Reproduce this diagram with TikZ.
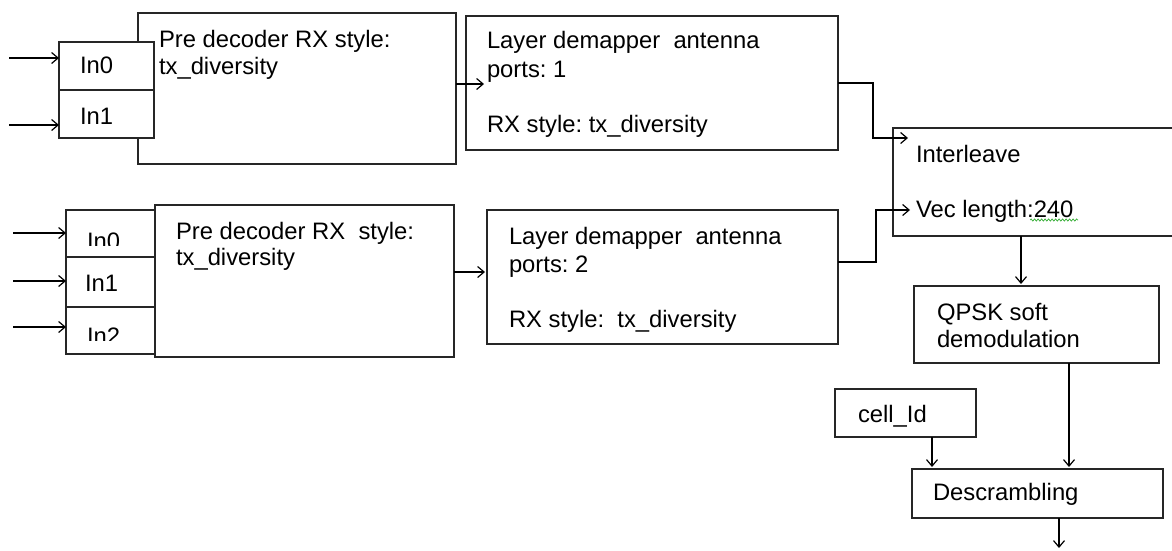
\documentclass[tikz,border=0pt]{standalone}
\usepackage{fontspec}
\setmainfont{Liberation Sans}
\usetikzlibrary{arrows.meta,decorations.pathmorphing}
\frenchspacing
\begin{document}
\begin{tikzpicture}[x=1pt,y=-1pt,
  box/.style={draw=black!85, line width=1.4pt, fill=white, anchor=north west, inner sep=0pt, outer sep=0pt},
  txt/.style={anchor=base west, inner sep=0pt, outer sep=0pt, font=\fontsize{23.8}{27}\selectfont\frenchspacing, text=black},
  arr/.style={line width=1.2pt, -{Straight Barb[length=6.5pt,width=11pt,line width=1.2pt]}},
  wire/.style={line width=1.2pt}]
\useasboundingbox (0,0) rectangle (1172,550);
\begin{scope}
\clip (0,0) rectangle (1172,550);
% ---------- top branch ----------
\node[box, minimum width=318pt, minimum height=151pt] (pre1) at (138,13) {};
\node[box, minimum width=95pt, minimum height=48pt] (a0) at (59,42) {};
\node[box, minimum width=95pt, minimum height=48pt] (a1) at (59,90) {};
\node[txt] (ta0) at (80,73) {In0};
\node[txt] (ta1) at (80,124) {In1};
\node[txt] (tp1a) at (159,47) {Pre decoder RX style:};
\node[txt] (tp1b) at (159,74) {tx\_diversity};
\coordinate (ia0) at (9,58);
\coordinate (ia1) at (9,125);
\draw[arr] (ia0) -- (ia0 -| a0.west);
\draw[arr] (ia1) -- (ia1 -| a1.west);

\node[box, minimum width=372pt, minimum height=134pt] (lay1) at (466,16) {};
\node[txt] (tl1a) at (487,48) {Layer demapper\ \ antenna};
\node[txt] (tl1b) at (487,77) {ports: 1};
\node[txt] (tl1c) at (487,132) {RX style: tx\_diversity};
\coordinate (l1in) at (484,84);
\draw[arr] (l1in -| pre1.east) -- (l1in);

% ---------- bottom branch ----------
\node[box, minimum width=299pt, minimum height=152pt] (pre2) at (155,205) {};
\node[box, minimum width=89pt, minimum height=47pt] (b0) at (66,210) {};
\node[box, minimum width=89pt, minimum height=50pt] (b1) at (66,257) {};
\node[box, minimum width=89pt, minimum height=47pt] (b2) at (66,307) {};
\begin{scope}
\clip (66,210) rectangle (155,245);
\node[txt] (tb0) at (87,249) {In0};
\end{scope}
\node[txt] (tb1) at (85,291) {In1};
\begin{scope}
\clip (66,307) rectangle (155,340);
\node[txt] (tb2) at (87,344) {In2};
\end{scope}
\node[txt] (tp2a) at (176,239) {Pre decoder RX\ \ style:};
\node[txt] (tp2b) at (176,265) {tx\_diversity};
\coordinate (ib0) at (13,233);
\coordinate (ib1) at (13,281);
\coordinate (ib2) at (13,327);
\draw[arr] (ib0) -- (ib0 -| b0.west);
\draw[arr] (ib1) -- (ib1 -| b1.west);
\draw[arr] (ib2) -- (ib2 -| b2.west);

\node[box, minimum width=351pt, minimum height=134pt] (lay2) at (487,210) {};
\node[txt] (tl2a) at (509,244) {Layer demapper\ \ antenna};
\node[txt] (tl2b) at (509,272) {ports: 2};
\node[txt] (tl2c) at (509,327) {RX style:\ \ tx\_diversity};
\coordinate (l2in) at (485,272);
\draw[arr] (l2in -| pre2.east) -- (l2in);

% ---------- right column ----------
\node[box, minimum width=320pt, minimum height=108pt] (intl) at (893,128) {};
\node[txt] (ti1) at (916,162) {Interleave};
\node[txt] (ti2) at (916,217) {Vec length:240};
\draw[green!60!black!80, line width=0.7pt, decorate, decoration={snake, segment length=3.5pt, amplitude=1.1pt}] (1030,220) -- (1078,220);

\coordinate (i1) at (908,138);
\coordinate (j1) at (873,83);
\draw[arr] (lay1.east |- j1) -- (j1) |- (i1);
\coordinate (i2) at (910,210);
\coordinate (j2) at (876,262);
\draw[arr] (lay2.east |- j2) -- (j2) |- (i2);

\node[box, minimum width=245pt, minimum height=77pt] (qpsk) at (914,286) {};
\node[txt] (tq1) at (937,320) {QPSK soft};
\node[txt] (tq2) at (937,347) {demodulation};
\coordinate (q1) at (1021,284);
\draw[arr] (q1 |- intl.south) -- (q1);

\node[box, minimum width=141pt, minimum height=48pt] (cell) at (835,389) {};
\node[txt] (tc) at (858,422) {cell\_Id};

\node[box, minimum width=251pt, minimum height=49pt] (desc) at (912,469) {};
\node[txt] (td) at (933,500) {Descrambling};
\coordinate (d1) at (1069,467);
\coordinate (d2) at (932,467);
\draw[arr] (d1 |- qpsk.south) -- (d1);
\draw[arr] (d2 |- cell.south) -- (d2);
\coordinate (out) at (1059,548);
\draw[arr] (out |- desc.south) -- (out);
\end{scope}
\end{tikzpicture}
\end{document}
